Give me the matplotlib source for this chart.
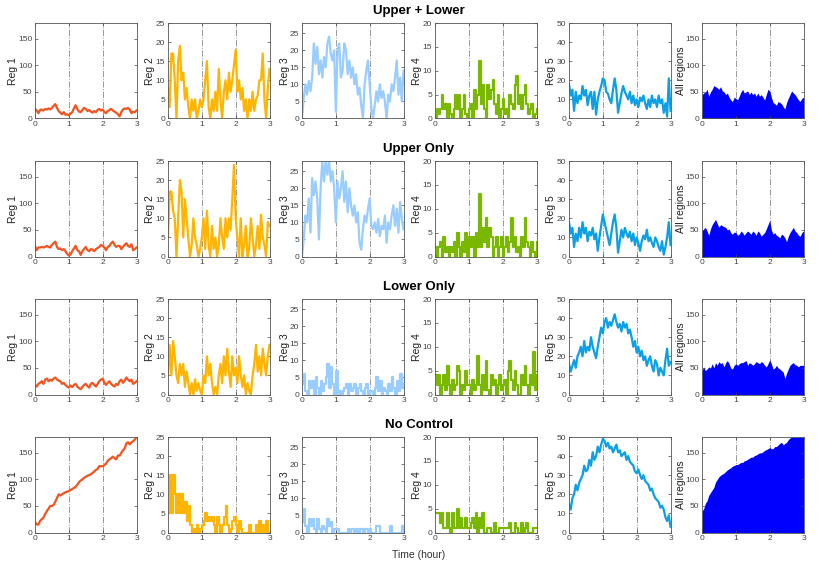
import numpy as np
import matplotlib
matplotlib.use('Agg')
import matplotlib.pyplot as plt

plt.rcParams['font.family'] = ['Liberation Sans', 'DejaVu Sans']

# time axis, 0.05 h steps
t = np.linspace(0, 3, 61)

scenarios = ['Upper + Lower', 'Upper Only', 'Lower Only', 'No Control']
region_names = ['Reg 1', 'Reg 2', 'Reg 3', 'Reg 4', 'Reg 5', 'All regions']
ylims = [180, 25, 28, 20, 50, 180]
yticks = [[0, 50, 100, 150], [0, 5, 10, 15, 20, 25], [0, 5, 10, 15, 20, 25],
          [0, 5, 10, 15, 20], [0, 10, 20, 30, 40, 50], [0, 50, 100, 150]]
colors = ['#F2531F', '#FFB400', '#99CCFF', '#7AB800', '#0BA0E6', '#0000FF']

# ---- Upper + Lower
ul_reg1 = [18, 15, 10, 16, 17, 15, 18, 17, 19, 17, 20, 24, 27, 20, 14, 11, 8, 12, 7, 8,
           6, 9, 12, 19, 25, 18, 13, 12, 16, 20, 18, 14, 16, 13, 11, 14, 12, 16, 18, 15,
           17, 12, 10, 14, 16, 18, 15, 13, 11, 8, 4, 12, 17, 19, 18, 20, 17, 10, 13, 12, 15]
ul_reg2 = [8, 3, 17, 17, 10, 0, 15, 19, 10, 12, 5, 8, 3, 0, 5, 2, 5, 0, 2, 5,
           3, 5, 10, 15, 3, 0, 5, 2, 7, 2, 13, 5, 0, 7, 10, 5, 12, 7, 10, 14,
           18, 7, 10, 5, 8, 2, 5, 0, 5, 2, 7, 2, 5, 6, 10, 10, 17, 5, 0, 8, 13]
ul_reg3 = [0, 6, 10, 7, 11, 8, 12, 22, 16, 21, 13, 17, 12, 18, 15, 22, 24, 19, 17, 20,
           2, 20, 22, 12, 14, 22, 20, 13, 17, 12, 15, 10, 13, 7, 9, 4, 0, 10, 14, 17,
           10, 3, 0, 4, 8, 5, 10, 6, 8, 5, 0, 7, 5, 10, 8, 12, 17, 7, 12, 5, 14]
ul_reg4 = [0, 2, 1, 2, 5, 2, 3, 0, 3, 1, 0, 2, 5, 2, 5, 0, 2, 5, 1, 0,
           2, 3, 0, 6, 2, 5, 12, 3, 7, 2, 0, 7, 4, 6, 8, 3, 1, 5, 0, 2,
           4, 1, 2, 0, 5, 3, 2, 7, 9, 3, 5, 2, 5, 7, 3, 1, 2, 3, 0, 1, 2]
ul_reg5 = [18, 12, 15, 4, 14, 8, 12, 10, 17, 12, 15, 7, 12, 14, 5, 14, 2, 10, 14, 17,
           21, 20, 14, 13, 10, 8, 15, 21, 15, 3, 8, 13, 17, 14, 12, 10, 14, 8, 12, 7,
           10, 6, 11, 9, 12, 8, 5, 10, 6, 12, 8, 10, 6, 12, 8, 10, 3, 8, 1, 21, 4]
ul_all = [45, 48, 50, 55, 42, 50, 55, 62, 60, 58, 55, 60, 52, 50, 45, 48, 40, 35, 32, 40,
          38, 35, 42, 50, 55, 48, 50, 52, 45, 50, 45, 48, 42, 48, 42, 45, 40, 35, 45, 55,
          52, 40, 30, 28, 25, 32, 30, 28, 22, 18, 30, 38, 45, 52, 48, 45, 40, 35, 32, 38, 40]

# ---- Upper Only
uo_reg1 = [20, 12, 17, 17, 18, 17, 18, 20, 18, 17, 22, 25, 28, 18, 14, 15, 12, 14, 10, 5,
           2, 4, 10, 15, 20, 12, 10, 3, 10, 14, 18, 12, 10, 14, 13, 10, 14, 16, 18, 22,
           20, 17, 12, 18, 20, 25, 28, 22, 18, 20, 20, 14, 18, 22, 25, 20, 18, 23, 12, 14, 17]
uo_reg2 = [5, 17, 17, 12, 10, 0, 10, 20, 17, 5, 15, 10, 5, 0, 3, 10, 5, 3, 0, 2,
           5, 10, 2, 12, 3, 0, 8, 2, 5, 0, 3, 10, 5, 2, 10, 5, 10, 7, 15, 24,
           10, 5, 0, 10, 0, 3, 8, 0, 2, 10, 5, 0, 3, 8, 2, 11, 5, 3, 0, 9, 8]
uo_reg3 = [0, 5, 12, 10, 17, 7, 23, 18, 22, 17, 5, 20, 28, 22, 28, 24, 28, 22, 25, 20,
           10, 22, 17, 20, 25, 16, 22, 13, 20, 15, 12, 15, 10, 13, 4, 2, 8, 12, 10, 14,
           17, 9, 8, 10, 7, 11, 6, 9, 8, 12, 4, 10, 8, 12, 15, 9, 14, 7, 16, 11, 8]
uo_reg4 = [2, 0, 2, 3, 0, 4, 1, 2, 0, 2, 1, 3, 0, 5, 2, 0, 3, 1, 5, 0,
           4, 2, 4, 0, 5, 2, 13, 2, 6, 3, 8, 2, 6, 4, 0, 2, 4, 0, 2, 4,
           0, 2, 4, 1, 3, 8, 2, 4, 1, 2, 0, 4, 2, 8, 3, 2, 0, 3, 1, 0, 3]
uo_reg5 = [18, 12, 15, 5, 12, 8, 15, 10, 18, 12, 15, 8, 13, 11, 15, 9, 12, 3, 10, 16,
           22, 18, 14, 10, 6, 12, 18, 22, 15, 2, 8, 14, 10, 15, 12, 10, 13, 8, 12, 6,
           10, 7, 3, 8, 11, 9, 14, 8, 10, 7, 5, 10, 8, 5, 3, 8, 1, 5, 10, 18, 6]
uo_all = [48, 52, 55, 48, 40, 52, 60, 65, 70, 62, 55, 60, 58, 56, 55, 50, 52, 45, 42, 46,
          45, 40, 42, 48, 45, 40, 45, 48, 45, 42, 48, 45, 40, 48, 45, 38, 42, 45, 52, 60,
          68, 50, 42, 45, 40, 38, 35, 42, 40, 35, 28, 38, 45, 50, 55, 48, 45, 40, 38, 45, 48]

# ---- Lower Only
lo_reg1 = [18, 15, 20, 22, 25, 20, 28, 30, 25, 28, 26, 30, 32, 28, 26, 25, 20, 22, 18, 15,
           13, 17, 14, 18, 20, 15, 12, 10, 14, 18, 20, 16, 13, 20, 22, 18, 15, 20, 25, 28,
           30, 22, 18, 22, 25, 20, 17, 15, 20, 18, 25, 28, 22, 26, 32, 28, 25, 28, 20, 22, 25]
lo_reg2 = [5, 13, 5, 14, 10, 5, 3, 8, 5, 8, 2, 6, 3, 0, 3, 0, 4, 1, 3, 1,
           0, 5, 3, 10, 5, 8, 3, 0, 2, 0, 5, 8, 3, 10, 5, 12, 6, 2, 10, 5,
           7, 3, 10, 5, 2, 5, 0, 3, 1, 0, 5, 8, 13, 6, 10, 5, 12, 8, 5, 10, 13]
lo_reg3 = [3, 6, 1, 0, 4, 2, 4, 0, 5, 2, 0, 4, 1, 3, 5, 9, 2, 8, 3, 0,
           7, 0, 1, 0, 1, 2, 3, 0, 3, 1, 2, 3, 0, 2, 3, 1, 0, 2, 3, 0,
           1, 1, 0, 2, 5, 1, 4, 0, 2, 1, 0, 3, 1, 5, 2, 0, 4, 1, 6, 2, 3]
lo_reg4 = [4, 2, 4, 0, 2, 4, 1, 6, 2, 0, 3, 1, 2, 6, 5, 0, 2, 1, 5, 2,
           2, 0, 3, 1, 2, 8, 2, 0, 4, 1, 7, 1, 0, 4, 2, 3, 0, 2, 4, 1,
           2, 3, 0, 5, 7, 3, 1, 5, 2, 0, 0, 4, 2, 6, 2, 0, 4, 2, 9, 1, 4]
lo_reg5 = [16, 12, 15, 18, 14, 20, 22, 25, 20, 28, 22, 25, 23, 30, 25, 22, 19, 25, 30, 35,
           32, 38, 40, 35, 38, 36, 39, 42, 38, 35, 37, 33, 38, 35, 37, 32, 34, 30, 25, 28,
           22, 25, 20, 23, 18, 20, 15, 18, 20, 15, 12, 18, 16, 10, 14, 12, 10, 18, 24, 15, 17]
lo_all = [45, 52, 45, 48, 52, 50, 58, 50, 60, 55, 62, 58, 60, 52, 60, 64, 58, 50, 48, 55,
          58, 55, 58, 60, 60, 62, 64, 55, 60, 58, 55, 58, 62, 60, 58, 62, 60, 55, 52, 58,
          65, 58, 48, 50, 55, 50, 48, 45, 42, 30, 40, 48, 55, 58, 60, 56, 55, 52, 55, 55, 55]

# ---- No Control
nc_reg1 = [20, 15, 15, 22, 25, 28, 35, 40, 45, 50, 50, 52, 58, 65, 72, 70, 72, 74, 76, 77,
           78, 80, 82, 84, 86, 90, 95, 98, 100, 103, 105, 107, 108, 110, 112, 115, 118, 120, 125, 125,
           125, 127, 130, 135, 138, 140, 143, 140, 138, 145, 145, 150, 155, 158, 168, 170, 166, 170, 172, 175, 180]
nc_reg2 = [5, 15, 5, 15, 10, 5, 10, 5, 10, 5, 8, 3, 7, 2, 0, 1, 0, 2, 0, 1,
           2, 3, 5, 3, 4, 3, 4, 2, 0, 4, 2, 0, 2, 4, 7, 2, 0, 1, 3, 4,
           2, 0, 3, 1, 0, 0, 0, 0, 2, 0, 0, 0, 2, 0, 3, 0, 2, 0, 3, 0, 0]
nc_reg3 = [3, 7, 2, 0, 4, 2, 4, 1, 0, 4, 1, 0, 2, 1, 0, 4, 2, 3, 0, 1,
           1, 1, 0, 0, 0, 0, 0, 1, 0, 1, 1, 0, 1, 0, 1, 1, 0, 1, 1, 0,
           1, 0, 0, 0, 2, 2, 0, 0, 0, 0, 0, 0, 2, 0, 0, 0, 0, 0, 0, 2, 0]
nc_reg4 = [4, 4, 4, 2, 4, 1, 1, 4, 1, 0, 4, 1, 1, 5, 1, 3, 1, 1, 3, 1,
           1, 2, 3, 1, 4, 0, 3, 1, 4, 0, 0, 1, 1, 0, 0, 2, 0, 0, 1, 1,
           1, 1, 1, 1, 2, 0, 0, 2, 1, 0, 0, 2, 0, 1, 2, 0, 0, 0, 1, 1, 1]
nc_reg5 = [15, 12, 18, 20, 25, 22, 26, 28, 30, 35, 32, 33, 38, 35, 42, 38, 40, 45, 42, 46,
           49, 48, 45, 47, 44, 45, 42, 44, 46, 42, 43, 40, 41, 42, 38, 40, 37, 36, 35, 32,
           31, 33, 30, 28, 30, 27, 26, 25, 22, 23, 20, 18, 17, 16, 13, 14, 12, 8, 6, 9, 3]
nc_all = [40, 45, 55, 60, 70, 75, 80, 85, 95, 100, 105, 108, 110, 112, 115, 118, 120, 122, 125, 126,
          128, 128, 130, 132, 132, 135, 136, 138, 140, 142, 142, 145, 146, 148, 150, 150, 152, 155, 156, 158,
          160, 158, 158, 162, 162, 165, 168, 170, 165, 168, 170, 175, 178, 180, 180, 180, 180, 180, 180, 180, 180]

rows = [
    [ul_reg1, ul_reg2, ul_reg3, ul_reg4, ul_reg5, ul_all],
    [uo_reg1, uo_reg2, uo_reg3, uo_reg4, uo_reg5, uo_all],
    [lo_reg1, lo_reg2, lo_reg3, lo_reg4, lo_reg5, lo_all],
    [nc_reg1, nc_reg2, nc_reg3, nc_reg4, nc_reg5, nc_all],
]

# panels whose low integer counts look blocky (drawn as stairs)
stair_panels = {(0, 3), (1, 3), (2, 3), (3, 3), (2, 2), (3, 2), (3, 1)}

W, H = 830, 566
fig = plt.figure(figsize=(W / 100, H / 100), dpi=100)

col_left = [35, 168, 302, 435, 569, 702]
row_top = [23, 161, 299, 437]
ax_w, ax_h = 101.5, 95.5
title_y = [11, 149, 287, 425]
ylab_off = [-22, -18, -17.5, -18, -18.5, -21.5]   # px from left spine to label centre

for i, row in enumerate(rows):
    for j, vals in enumerate(row):
        ax = fig.add_axes([col_left[j] / W, 1 - (row_top[i] + ax_h) / H, ax_w / W, ax_h / H])
        if j == 5:
            ax.fill_between(t, vals, color=colors[j], lw=0)
        elif (i, j) in stair_panels:
            ax.step(t, vals, where='post', color=colors[j], lw=1.6)
        else:
            ax.plot(t, vals, color=colors[j], lw=1.6)
        for xv in (1, 2):
            ax.axvline(xv, color='0.6', lw=0.7, ls='-.', zorder=0.5)
        ax.set_xlim(0, 3)
        ax.set_ylim(0, ylims[j])
        ax.set_xticks([0, 1, 2, 3])
        ax.set_yticks(yticks[j])
        ax.tick_params(direction='in', length=2.5, width=0.5, labelsize=6,
                       colors='#444444', top=True, right=True, pad=2)
        for sp in ax.spines.values():
            sp.set_color('#555555')
            sp.set_linewidth(0.6)
        ax.set_ylabel(region_names[j], fontsize=7.5, color='#222222', va='center')
        ax.yaxis.set_label_coords(ylab_off[j] / ax_w, 0.5)
    fig.text(419 / W, 1 - title_y[i] / H, scenarios[i], ha='center', va='center',
             fontsize=9.5, fontweight='bold')

fig.text(419 / W, 1 - 555 / H, 'Time (hour)', ha='center', va='center',
         fontsize=7.5, color='#333333')

fig.savefig('out.png', dpi=100)
